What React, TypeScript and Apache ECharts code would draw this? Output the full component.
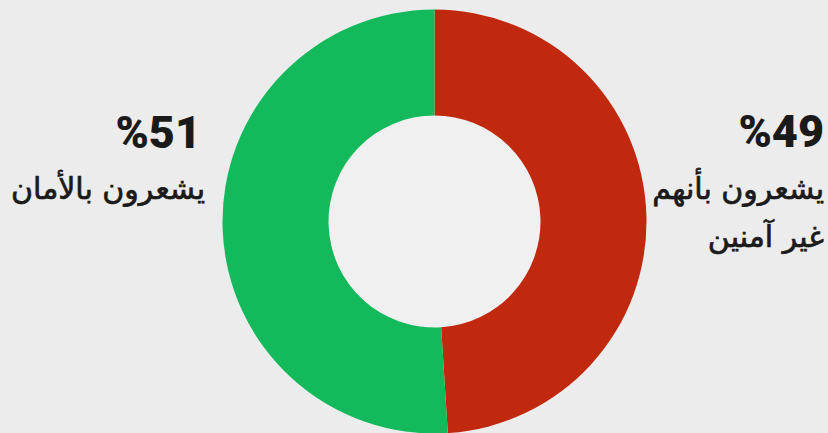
import React, { useEffect, useRef } from "react";
import * as echarts from "echarts";

const categories = ["يشعرون بأنهم غير آمنين", "يشعرون بالأمان"];
const values = [49, 51];
const colors = ["#c1290f", "#13b95b"];
const percentLabels = ["%49", "%51"];
const rightLines = ["يشعرون بأنهم", "غير آمنين"];
const leftLines = ["يشعرون بالأمان"];

export default function App() {
  const ref = useRef<HTMLDivElement>(null);
  useEffect(() => {
    document.body.style.margin = "0";
    const chart = echarts.init(ref.current!, null, { renderer: "svg" });
    const arFont = "'DejaVu Sans', sans-serif";
    const numFont = "Roboto, 'DejaVu Sans', sans-serif";
    const ink = "#1a1a1a";
    const arStyle = { font: `400 30px ${arFont}`, fill: ink, stroke: ink, lineWidth: 0.7, textAlign: "right", textVerticalAlign: "middle" };
    const numStyle = { font: `900 45px ${numFont}`, fill: ink, textAlign: "right", textVerticalAlign: "middle" };
    chart.setOption({
      animation: false,
      backgroundColor: "#ececec",
      graphic: [
        { type: "circle", shape: { cx: 434.5, cy: 221.5, r: 106 }, style: { fill: "#f0f0f0" }, silent: true, z: 0 },
        { type: "text", x: 824, y: 131, style: { ...numStyle, text: percentLabels[0] } },
        { type: "text", x: 824, y: 188, style: { ...arStyle, text: rightLines[0] } },
        { type: "text", x: 824, y: 236, style: { ...arStyle, text: rightLines[1] } },
        { type: "text", x: 201, y: 132, style: { ...numStyle, text: percentLabels[1] } },
        { type: "text", x: 205, y: 188, style: { ...arStyle, text: leftLines[0] } },
      ],
      series: [
        {
          type: "pie",
          center: [434.5, 221.5],
          radius: [106, 212],
          startAngle: 90,
          clockwise: true,
          label: { show: false },
          labelLine: { show: false },
          emphasis: { disabled: true },
          itemStyle: { borderWidth: 0 },
          data: categories.map((name, i) => ({ name, value: values[i], itemStyle: { color: colors[i] } })),
        },
      ],
    });
    return () => chart.dispose();
  }, []);
  return <div ref={ref} style={{ position: "fixed", left: 0, top: 0, width: 828, height: 433 }} />;
}
